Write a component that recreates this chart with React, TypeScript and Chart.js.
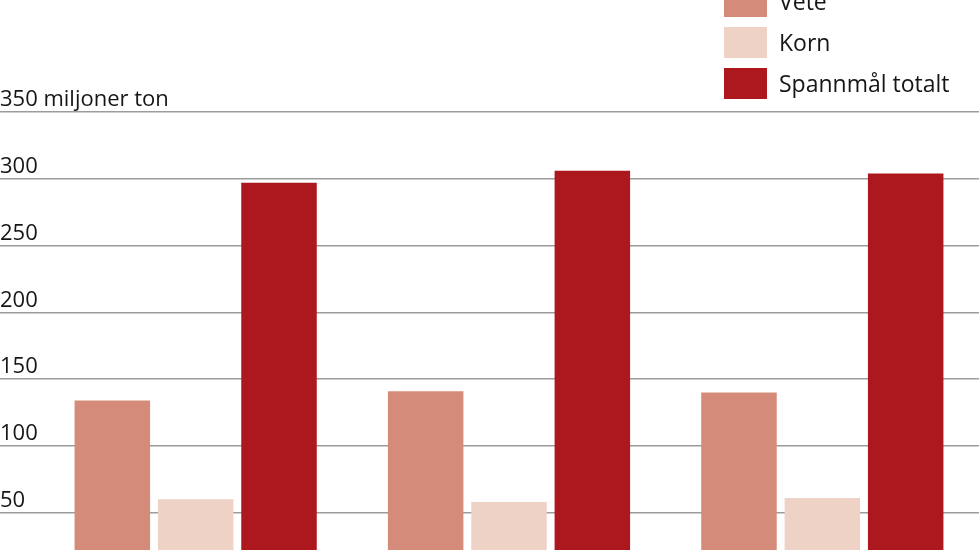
import { useEffect, useRef } from 'react'
import { Chart, registerables } from 'chart.js'

Chart.register(...registerables)

// categories are below the visible crop in the reference
const YEARS = ['2019', '2020', '2021']
const VETE = [134, 141, 140]
const KORN = [60, 58, 61]
const TOTAL = [297, 306, 304]
const SERIES = ['Vete', 'Korn', 'Spannmål totalt']
const COLORS = ['#d48b79', '#efd2c6', '#ac181e']
const Y_MAX = 350
const Y_STEP = 50
const Y_UNIT = 'miljoner ton'

const FONT = '"Open Sans", "Noto Sans", sans-serif'
const INK = '#161616'
const AXIS_W = 39

function BarChart() {
  const ref = useRef<HTMLCanvasElement>(null)

  useEffect(() => {
    if (!ref.current) return
    const values = [VETE, KORN, TOTAL]
    const chart = new Chart(ref.current, {
      type: 'bar',
      data: {
        labels: YEARS,
        datasets: SERIES.map((label, i) => ({
          label,
          data: values[i],
          backgroundColor: COLORS[i],
          borderWidth: 0,
          categoryPercentage: 0.798,
          barPercentage: 0.906,
        })),
      },
      options: {
        responsive: false,
        animation: false,
        layout: { padding: { top: 112, right: 1, left: 0, bottom: 0 } },
        plugins: { legend: { display: false }, tooltip: { enabled: false } },
        scales: {
          x: {
            grid: { display: false },
            border: { display: false },
            ticks: { display: false },
            afterFit: (s: any) => { s.height = 60.5 },
          },
          y: {
            min: 0,
            max: Y_MAX,
            border: { display: false },
            grid: { color: '#9c9c9c', lineWidth: 1.5, tickLength: AXIS_W },
            ticks: {
              stepSize: Y_STEP,
              // mirrored labels are not clipped to the narrow axis box
              mirror: true,
              crossAlign: 'near',
              padding: -AXIS_W,
              labelOffset: -12,
              color: INK,
              font: { family: FONT, size: 22 },
              callback: (v: any, i: number, ticks: any[]) =>
                i === ticks.length - 1 ? `${v} ${Y_UNIT}` : String(v),
            },
            afterFit: (s: any) => { s.width = AXIS_W },
          },
        },
      } as any,
    })
    return () => chart.destroy()
  }, [])

  return <canvas ref={ref} width={980} height={640} style={{ display: 'block' }} />
}

function Legend() {
  return (
    <div style={{ position: 'absolute', left: 724, top: -14, fontFamily: FONT, fontSize: 23, color: INK }}>
      {SERIES.map((s, i) => (
        <div key={s} style={{ display: 'flex', alignItems: 'center', height: 31, marginBottom: 10 }}>
          <span style={{ width: 43, height: 31, background: COLORS[i], display: 'inline-block' }} />
          <span style={{ marginLeft: 12, lineHeight: '31px' }}>{s}</span>
        </div>
      ))}
    </div>
  )
}

export default function App() {
  return (
    <div style={{ position: 'absolute', left: 0, top: 0, width: 980, height: 550, overflow: 'hidden', background: '#fff' }}>
      <BarChart />
      <Legend />
    </div>
  )
}
